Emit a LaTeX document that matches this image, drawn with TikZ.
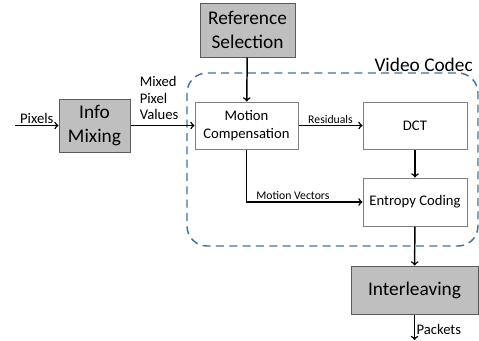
\documentclass[tikz,border=0pt]{standalone}
\usepackage{fontspec}
\setmainfont{Carlito}
\usepackage{xcolor}
\usepackage{tikz}
\usetikzlibrary{calc}
\definecolor{boxgray}{RGB}{191, 191, 191}
\definecolor{boxline}{RGB}{90, 90, 90}
\definecolor{whiteline}{RGB}{127, 127, 127}
\definecolor{codecblue}{RGB}{65, 113, 156}

\tikzset{
    graybox/.style={draw=boxline, fill=boxgray, line width=0.75pt, inner sep=0pt,
        align=center, font=\fontsize{14.5}{18}\selectfont},
    whitebox/.style={draw=whiteline, fill=white, line width=0.75pt, inner sep=0pt,
        align=center, font=\fontsize{11}{13}\selectfont},
    flow/.style={->, line width=1.1pt},
    smalllabel/.style={inner sep=1pt, font=\fontsize{8.8}{10}\selectfont},
    midlabel/.style={inner sep=1pt, font=\fontsize{11}{12.5}\selectfont}
}

\begin{document}
\begin{tikzpicture}[x=0.75pt, y=-0.75pt]
    \useasboundingbox (0, 0) rectangle (479, 340);

    % codec frame
    \draw[codecblue, line width=1.1pt, dash pattern=on 6pt off 4pt, rounded corners=15pt]
        (187, 73) rectangle (478, 246);
    \node[anchor=base east, inner sep=0pt, font=\fontsize{14.5}{17}\selectfont] (codec) at (473, 71) {Video Codec};

    % blocks
    \node[graybox, minimum width=71.25pt, minimum height=40.5pt] (refsel) at (247.5, 30) {Reference\\Selection};
    \node[graybox, minimum width=53.25pt, minimum height=39.75pt] (info) at (94.5, 125.5) {Info\\Mixing};
    \node[whitebox, minimum width=77.25pt, minimum height=35.25pt] (mc) at (246.5, 125.5) {Motion\\Compensation};
    \node[whitebox, minimum width=78pt, minimum height=35.25pt] (dct) at (415, 125.5) {DCT};
    \node[whitebox, minimum width=78pt, minimum height=36pt] (entropy) at (415, 202) {Entropy Coding};
    \node[graybox, minimum width=95.25pt, minimum height=36pt] (interleave) at (414.5, 290) {Interleaving};

    \coordinate (pixin) at (15, 125.5);
    \coordinate (pktout) at (414.5, 340);

    % connectors
    \draw[flow] (pixin) -- node[midlabel, above] (pixlbl) {Pixels} (info);
    \draw[flow] (info) -- (mc);
    \node[midlabel, anchor=west, align=left, inner sep=0pt] (mixlbl) at (139.5, 98) {Mixed\\Pixel\\Values};
    \draw[flow] (refsel) -- (mc);
    \draw[flow] (mc) -- node[smalllabel, above] (reslbl) {Residuals} (dct);
    \draw[flow] (mc.south) |- node[smalllabel, above, pos=0.7] (mvlbl) {Motion Vectors} (entropy.west);
    \draw[flow] (dct) -- (entropy);
    \draw[flow] (entropy) -- (interleave);
    \draw[flow] (interleave) -- node[midlabel, right, pos=0.6] (pktlbl) {Packets} (pktout);
\end{tikzpicture}
\end{document}
